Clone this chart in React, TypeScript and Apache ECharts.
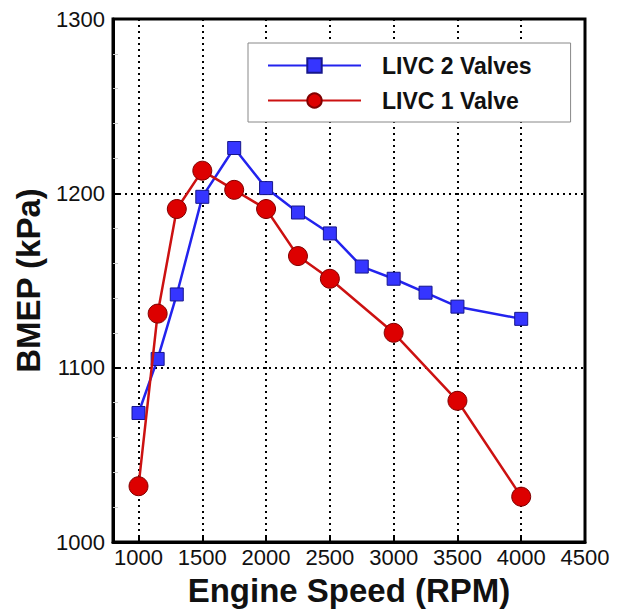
import React, { useEffect, useRef } from "react";
import * as echarts from "echarts";

// Engine speed (RPM) and brake mean effective pressure (kPa)
const rpmTwoValves = [1000, 1150, 1300, 1500, 1750, 2000, 2250, 2500, 2750, 3000, 3250, 3500, 4000];
const bmepTwoValves = [1074, 1105, 1142, 1198, 1226, 1203, 1189, 1177, 1158, 1151, 1143, 1135, 1128];

const rpmOneValve = [1000, 1150, 1300, 1500, 1750, 2000, 2250, 2500, 3000, 3500, 4000];
const bmepOneValve = [1032, 1131, 1191, 1213, 1202, 1191, 1164, 1151, 1120, 1081, 1026];

const xTickValues = [1000, 1500, 2000, 2500, 3000, 3500, 4000, 4500];
const yTickValues = [1000, 1100, 1200, 1300];

const FONT = "'Liberation Sans', Arial, Helvetica, sans-serif";

export default function App() {
  const ref = useRef<HTMLDivElement>(null);

  useEffect(() => {
    if (!ref.current) return;
    const chart = echarts.init(ref.current, undefined, { renderer: "svg" });

    const pair = (xs: number[], ys: number[]) => xs.map((x, i) => [x, ys[i]]);

    chart.setOption({
      animation: false,
      backgroundColor: "#ffffff",
      grid: {
        left: 113,
        right: 41,
        top: 19,
        bottom: 71,
        show: true,
        borderColor: "#000",
        borderWidth: 3,
        backgroundColor: "transparent",
      },
      legend: {
        orient: "vertical",
        left: 248,
        top: 43,
        padding: [11, 39, 10, 19],
        itemWidth: 93,
        itemHeight: 18,
        itemGap: 12,
        backgroundColor: "#fff",
        borderColor: "#888",
        borderWidth: 1,
        borderRadius: 0,
        textStyle: {
          fontFamily: FONT,
          fontWeight: "bold",
          fontSize: 23,
          color: "#111",
          padding: [0, 0, 0, 16],
        },
        data: ["LIVC 2 Valves", "LIVC 1 Valve"],
      },
      xAxis: {
        type: "value",
        min: 800,
        max: 4500,
        name: "Engine Speed (RPM)",
        nameLocation: "middle",
        nameGap: 32,
        nameTextStyle: { fontFamily: FONT, fontWeight: "bold", fontSize: 33, color: "#111" },
        axisLine: { show: true, onZero: false, lineStyle: { color: "#000", width: 3 } },
        axisTick: {
          show: true,
          inside: true,
          length: 7,
          customValues: xTickValues,
          lineStyle: { color: "#000", width: 2 },
        },
        axisLabel: {
          customValues: xTickValues,
          margin: 4,
          fontFamily: FONT,
          fontSize: 22,
          color: "#111",
          formatter: (v: number) => String(v),
        },
        splitLine: {
          show: true,
          lineStyle: { color: "#000", width: 2, type: [2, 4] },
        },
      },
      yAxis: {
        type: "value",
        min: 1000,
        max: 1300,
        interval: 100,
        name: "BMEP (kPa)",
        nameLocation: "middle",
        nameGap: 61,
        nameTextStyle: { fontFamily: FONT, fontWeight: "bold", fontSize: 33, color: "#111" },
        axisLine: { show: true, lineStyle: { color: "#000", width: 3 } },
        axisTick: { show: true, inside: true, length: 8, lineStyle: { color: "#000", width: 2 } },
        minorTick: { show: true, splitNumber: 5, length: 5, lineStyle: { color: "#c8c8c8", width: 1 } },
        axisLabel: {
          margin: 8,
          fontFamily: FONT,
          fontSize: 22,
          color: "#111",
          customValues: yTickValues,
          formatter: (v: number) => String(v),
        },
        splitLine: {
          show: true,
          lineStyle: { color: "#000", width: 2, type: [2, 4] },
        },
      },
      series: [
        {
          name: "LIVC 2 Valves",
          type: "line",
          data: pair(rpmTwoValves, bmepTwoValves),
          symbol: "rect",
          symbolSize: 13,
          lineStyle: { color: "#2323ee", width: 2.5 },
          itemStyle: { color: "#3535ff", borderColor: "#16168c", borderWidth: 1 },
          z: 3,
        },
        {
          name: "LIVC 1 Valve",
          type: "line",
          data: pair(rpmOneValve, bmepOneValve),
          symbol: "circle",
          symbolSize: 19,
          lineStyle: { color: "#cc1111", width: 2.5 },
          itemStyle: { color: "#dd0000", borderColor: "#800000", borderWidth: 1 },
          z: 4,
        },
      ],
    });

    return () => chart.dispose();
  }, []);

  return (
    <div
      ref={ref}
      style={{ position: "fixed", left: 0, top: 0, width: 626, height: 613 }}
    />
  );
}
